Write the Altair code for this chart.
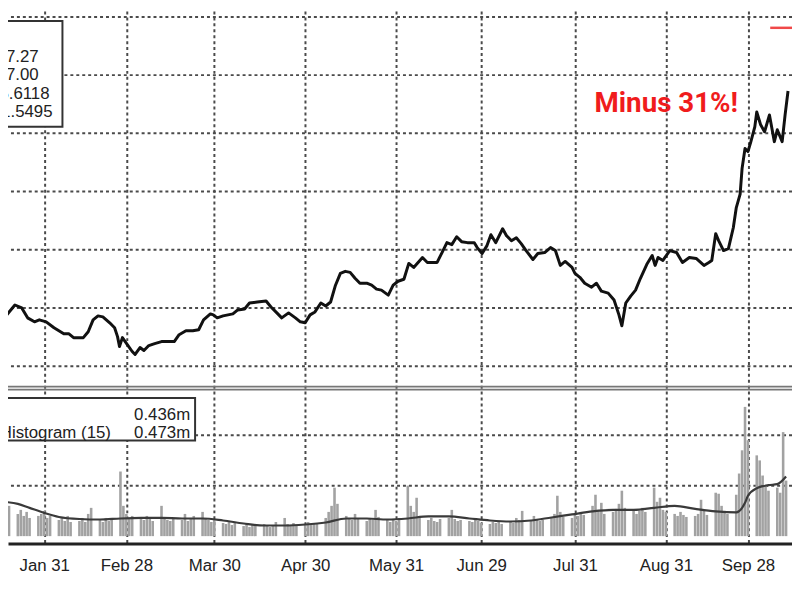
import altair as alt
import pandas as pd

# ---------------- data ----------------
price_dates = [
    "2001-01-17T16:00", "2001-01-21T00:00", "2001-01-23T08:00", "2001-01-25T08:00", "2001-01-27T16:00",
    "2001-01-29T08:00", "2001-01-31T16:00",
    "2001-02-03T08:00", "2001-02-06T16:00", "2001-02-08T08:00", "2001-02-10T00:00", "2001-02-13T08:00",
    "2001-02-15T00:00", "2001-02-16T16:00", "2001-02-18T08:00", "2001-02-20T00:00", "2001-02-22T08:00",
    "2001-02-24T00:00", "2001-02-25T00:00", "2001-02-25T16:00", "2001-02-26T16:00", "2001-02-28T08:00",
    "2001-03-02T00:00", "2001-03-03T00:00", "2001-03-04T16:00", "2001-03-06T00:00", "2001-03-07T16:00",
    "2001-03-09T16:00", "2001-03-12T00:00", "2001-03-14T08:00", "2001-03-16T08:00", "2001-03-18T00:00",
    "2001-03-20T08:00", "2001-03-22T16:00", "2001-03-24T16:00", "2001-03-26T08:00", "2001-03-28T16:00",
    "2001-03-29T16:00", "2001-03-31T00:00",
    "2001-04-02T00:00", "2001-04-05T08:00", "2001-04-07T00:00", "2001-04-09T08:00", "2001-04-11T00:00",
    "2001-04-13T16:00", "2001-04-16T16:00", "2001-04-18T08:00", "2001-04-20T08:00", "2001-04-22T00:00",
    "2001-04-24T08:00", "2001-04-26T16:00", "2001-04-28T08:00", "2001-04-30T00:00",
    "2001-05-01T16:00", "2001-05-03T08:00", "2001-05-05T08:00", "2001-05-07T00:00", "2001-05-08T16:00",
    "2001-05-10T08:00", "2001-05-12T00:00", "2001-05-13T16:00", "2001-05-15T08:00", "2001-05-17T00:00",
    "2001-05-18T16:00", "2001-05-21T00:00", "2001-05-22T16:00", "2001-05-24T08:00", "2001-05-26T00:00",
    "2001-05-28T08:00", "2001-05-30T00:00", "2001-05-31T16:00",
    "2001-06-02T16:00", "2001-06-04T08:00", "2001-06-06T00:00", "2001-06-09T00:00", "2001-06-10T16:00",
    "2001-06-14T00:00", "2001-06-15T16:00", "2001-06-17T08:00", "2001-06-19T00:00", "2001-06-20T16:00",
    "2001-06-22T08:00", "2001-06-24T08:00", "2001-06-26T16:00", "2001-06-27T16:00", "2001-06-29T08:00",
    "2001-07-01T00:00", "2001-07-02T08:00", "2001-07-04T00:00", "2001-07-06T08:00", "2001-07-07T16:00",
    "2001-07-09T08:00", "2001-07-11T00:00", "2001-07-12T16:00", "2001-07-14T08:00", "2001-07-16T16:00",
    "2001-07-18T08:00", "2001-07-20T16:00", "2001-07-22T16:00", "2001-07-24T08:00", "2001-07-26T00:00",
    "2001-07-27T16:00", "2001-07-30T00:00", "2001-07-31T00:00",
    "2001-08-01T16:00", "2001-08-03T08:00", "2001-08-05T16:00", "2001-08-07T08:00", "2001-08-09T00:00",
    "2001-08-11T08:00", "2001-08-13T08:00", "2001-08-15T00:00", "2001-08-16T00:00", "2001-08-17T08:00",
    "2001-08-19T00:00", "2001-08-20T16:00", "2001-08-22T08:00", "2001-08-24T16:00", "2001-08-26T08:00",
    "2001-08-27T08:00", "2001-08-28T08:00", "2001-08-30T00:00",
    "2001-09-01T08:00", "2001-09-03T16:00", "2001-09-05T16:00", "2001-09-08T00:00", "2001-09-10T08:00",
    "2001-09-13T00:00", "2001-09-14T16:00", "2001-09-15T16:00", "2001-09-17T00:00", "2001-09-18T00:00",
    "2001-09-19T16:00", "2001-09-21T08:00", "2001-09-23T00:00", "2001-09-24T00:00", "2001-09-25T08:00",
    "2001-09-26T00:00", "2001-09-27T00:00", "2001-09-28T00:00", "2001-09-29T00:00", "2001-09-30T08:00",
    "2001-10-01T00:00", "2001-10-02T08:00", "2001-10-03T16:00", "2001-10-05T08:00", "2001-10-07T00:00",
    "2001-10-08T00:00", "2001-10-09T16:00", "2001-10-10T16:00", "2001-10-11T16:00",
]
price_values = [
    28.47, 30.51, 30.00, 28.30, 27.62, 27.96, 27.62,
    26.60, 25.58, 25.58, 24.90, 24.90, 25.92, 27.96, 28.64, 28.47, 27.45, 26.60, 25.07, 23.37, 24.90, 23.71,
    22.52, 22.01, 23.20, 22.69, 23.54, 23.88, 24.22, 24.22, 24.22, 25.41, 26.09, 26.09, 26.26, 27.96, 28.98,
    28.81, 28.30,
    28.64, 28.98, 29.66, 29.83, 30.85, 31.02, 31.19, 30.17, 29.15, 28.30, 29.15, 28.30, 27.62, 27.45,
    28.81, 29.32, 30.85, 30.34, 31.02, 33.91, 35.95, 36.29, 36.12, 35.10, 34.25, 34.25, 33.91, 33.23, 33.06,
    32.21, 33.91, 34.59,
    34.93, 37.65, 36.97, 38.67, 37.82, 37.82, 39.52, 41.22, 40.88, 42.24, 41.39, 41.22, 41.22, 40.37, 39.35,
    40.71, 42.59, 41.22, 43.61, 42.41, 41.56, 42.07, 41.05, 39.86, 38.33, 39.35, 39.52, 40.37, 39.86, 37.31,
    37.99, 36.97, 35.95,
    35.27, 34.25, 33.57, 34.25, 32.89, 32.55, 31.36, 28.81, 26.94, 30.85, 32.04, 33.06, 35.10, 37.65, 39.01,
    37.31, 38.67, 38.16,
    39.86, 39.52, 37.82, 38.67, 38.50, 37.31, 37.82, 38.16, 42.76, 41.56, 39.86, 40.20, 43.78, 47.18, 49.56,
    53.98, 57.38, 56.87, 58.57, 61.12,
    63.67, 61.46, 60.27, 63.16, 58.57, 60.61, 58.57, 63.16, 67.27,
]

# daily volume (millions), one per trading day from Jan 17 to Oct 11
volume_start, volume_end = "2001-01-17", "2001-10-11"
volume_values = [
    0.28, 0.24, 0.30,
    0.22, 0.26, 0.20, 0.24, 0.18,
    0.20, 0.22, 0.25, 0.18, 0.20,
    0.16, 0.18, 0.15, 0.20, 0.14,
    0.15, 0.18, 0.14, 0.22, 0.28,
    0.16, 0.14, 0.18, 0.15, 0.17,
    0.64, 0.30, 0.22, 0.18, 0.20,
    0.18, 0.16, 0.20, 0.17, 0.15,
    0.30, 0.18, 0.16, 0.15, 0.17,
    0.16, 0.22, 0.15, 0.18, 0.20,
    0.24, 0.18, 0.16, 0.14, 0.17,
    0.13, 0.12, 0.14, 0.11, 0.13,
    0.10, 0.12, 0.09, 0.11, 0.10,
    0.12, 0.10, 0.09, 0.11, 0.14,
    0.18, 0.12, 0.10, 0.13, 0.11,
    0.12, 0.14, 0.11, 0.13, 0.12,
    0.18, 0.24, 0.30, 0.48, 0.32,
    0.20, 0.18, 0.16, 0.22, 0.17,
    0.15, 0.18, 0.16, 0.26, 0.19,
    0.16, 0.14, 0.17, 0.15, 0.18,
    0.50, 0.30, 0.24, 0.38, 0.20,
    0.16, 0.18, 0.15, 0.14, 0.17,
    0.18, 0.26, 0.17, 0.15, 0.16,
    0.15, 0.14, 0.16, 0.15, 0.13,
    0.12, 0.14, 0.13, 0.15, 0.12,
    0.14, 0.13, 0.18, 0.16, 0.25,
    0.15, 0.20, 0.17, 0.15, 0.16,
    0.18, 0.22, 0.40, 0.24, 0.19,
    0.18, 0.22, 0.20, 0.24, 0.21,
    0.30, 0.41, 0.26, 0.33, 0.22,
    0.24, 0.27, 0.32, 0.45, 0.28,
    0.26, 0.22, 0.25, 0.28, 0.24,
    0.48, 0.34, 0.38, 0.26, 0.24,
    0.22, 0.20, 0.24, 0.21, 0.19,
    0.20, 0.22, 0.36, 0.25, 0.21,
    0.43, 0.42, 0.30, 0.25, 0.22,
    0.41, 0.62, 0.85, 1.28, 0.95,
    0.80, 0.75, 0.60, 0.50, 0.45,
    0.48, 0.43, 1.03, 0.55,
]

# 15-day moving average of volume
ma_dates = [
    "2001-01-17", "2001-01-22", "2001-01-26", "2001-01-31", "2001-02-05", "2001-02-12", "2001-02-19",
    "2001-02-26", "2001-03-05", "2001-03-12", "2001-03-19", "2001-03-26", "2001-04-02", "2001-04-09",
    "2001-04-16", "2001-04-23", "2001-04-30", "2001-05-07", "2001-05-14", "2001-05-21", "2001-05-28",
    "2001-06-04", "2001-06-11", "2001-06-18", "2001-06-25", "2001-07-02", "2001-07-09", "2001-07-16",
    "2001-07-23", "2001-07-30", "2001-08-06", "2001-08-13", "2001-08-20", "2001-08-27", "2001-09-03",
    "2001-09-10", "2001-09-17", "2001-09-24", "2001-09-27", "2001-09-28", "2001-10-01", "2001-10-05",
    "2001-10-08", "2001-10-11",
]
ma_values = [
    0.34, 0.32, 0.28, 0.23, 0.19, 0.17, 0.165, 0.175, 0.18, 0.18, 0.175, 0.175, 0.155, 0.125,
    0.105, 0.105, 0.115, 0.135, 0.175, 0.175, 0.165, 0.175, 0.195, 0.195, 0.175, 0.155, 0.145, 0.155,
    0.185, 0.215, 0.245, 0.26, 0.26, 0.28, 0.30, 0.27, 0.245, 0.235, 0.33, 0.40, 0.475, 0.505,
    0.515, 0.59,
]

tick_dates = ["2001-01-31", "2001-02-28", "2001-03-30", "2001-04-30", "2001-05-31",
              "2001-06-29", "2001-07-31", "2001-08-31", "2001-09-28"]
price_grid = [20, 30, 40, 50, 60, 70, 80]
volume_grid = [0.5, 1.0]

top_legend_labels = ["67.27", "97.00", "55.6118", "41.5495"]
vol_legend_labels = ["0.436m", "Histogram (15)", "0.473m"]
annotation_text = "Minus 31%!"

# ---------------- chart ----------------
W, H = 792, 538
FONT = "Liberation Sans"
GRID = "#4a4a4a"


def dt(s, hours=0):
    y, m, d = (int(v) for v in s.split("-"))
    return alt.DateTime(year=y, month=m, date=d, hours=hours)


x_scale = alt.Scale(domain=[dt("2001-01-20", 8), dt("2001-10-11", 8)])
x_axis = alt.Axis(
    values=[dt(s) for s in tick_dates], format="%b %d", title=None,
    grid=True, gridDash=[3, 3], gridColor=GRID, gridWidth=2, gridOpacity=1,
    ticks=False, domain=True, domainColor="#222", domainWidth=3,
    labelFont=FONT, labelFontSize=17, labelColor="#222", labelPadding=14,
    labelFlush=False, labelOverlap=False,
)


def X():
    return alt.X("date:T", scale=x_scale, axis=x_axis)


price_scale = alt.Scale(domain=[-10.476, 81.02], nice=False, zero=False)
vol_scale = alt.Scale(domain=[-0.0735, 5.201], nice=False, zero=False)

price_df = pd.DataFrame({"date": pd.to_datetime(price_dates), "price": price_values})
vol_df = pd.DataFrame({"date": pd.bdate_range(volume_start, volume_end), "vol": volume_values})
ma_df = pd.DataFrame({"date": pd.to_datetime(ma_dates), "ma": ma_values})
pgrid_df = pd.DataFrame({"p": price_grid})
vgrid_df = pd.DataFrame({"v": volume_grid})
one = alt.Data(values=[{"k": 1}])

price_grid_layer = alt.Chart(pgrid_df).mark_rule(
    strokeDash=[3, 3], color=GRID, strokeWidth=2
).encode(y=alt.Y("p:Q", scale=price_scale, axis=None))

vol_grid_layer = alt.Chart(vgrid_df).mark_rule(
    strokeDash=[3, 3], color=GRID, strokeWidth=2
).encode(y=alt.Y("v:Q", scale=vol_scale, axis=None))

bars = alt.Chart(vol_df).mark_bar(width=2.6, color="#a2a2a2").encode(
    x=X(), y=alt.Y("vol:Q", scale=vol_scale, axis=None), y2=alt.value(H - 2)
)

ma_line = alt.Chart(ma_df).mark_line(color="#3a3a3a", strokeWidth=2.2, interpolate="monotone").encode(
    x=X(), y=alt.Y("ma:Q", scale=vol_scale, axis=None)
)

price_line = alt.Chart(price_df).mark_line(
    color="#111", strokeWidth=3, strokeJoin="round", clip=True
).encode(x=X(), y=alt.Y("price:Q", scale=price_scale, axis=None))

sep1 = alt.Chart(one).mark_rule(color="#777", strokeWidth=1.6).encode(
    x=alt.value(0), x2=alt.value(W), y=alt.value(379.5))
sep2 = alt.Chart(one).mark_rule(color="#777", strokeWidth=1.6).encode(
    x=alt.value(0), x2=alt.value(W), y=alt.value(382.5))

box_top = alt.Chart(one).mark_rect(fill="white", stroke="#333", strokeWidth=2).encode(
    x=alt.value(-13), x2=alt.value(55), y=alt.value(10), y2=alt.value(117))
box_vol = alt.Chart(one).mark_rect(fill="white", stroke="#333", strokeWidth=2).encode(
    x=alt.value(-13), x2=alt.value(189), y=alt.value(391), y2=alt.value(434))

text_layers = []
for label, xr, yb in zip(top_legend_labels, [31, 31, 42, 45], [52, 69.5, 88.5, 107]):
    text_layers.append(
        alt.Chart(one).mark_text(text=label, align="right", baseline="alphabetic",
                                 font=FONT, fontSize=17, color="#222")
        .encode(x=alt.value(xr), y=alt.value(yb))
    )
for label, xr, yb in zip(vol_legend_labels, [184, 104, 184], [413, 431, 431]):
    text_layers.append(
        alt.Chart(one).mark_text(text=label, align="right", baseline="alphabetic",
                                 font=FONT, fontSize=17, color="#222")
        .encode(x=alt.value(xr), y=alt.value(yb))
    )

red_text = alt.Chart(one).mark_text(
    text=annotation_text, align="center", baseline="alphabetic",
    font="Roboto", fontSize=28, fontWeight="bold", color="#f01c1c"
).encode(x=alt.value(665), y=alt.value(102))

red_swatch = alt.Chart(one).mark_rule(color="#f04848", strokeWidth=2.5).encode(
    x=alt.value(770), x2=alt.value(W), y=alt.value(17))

chart = alt.layer(
    price_grid_layer, vol_grid_layer, bars, ma_line, price_line, sep1, sep2,
    box_top, box_vol, *text_layers, red_text, red_swatch
).resolve_scale(y="independent").properties(
    width=W, height=H,
    autosize=alt.AutoSizeParams(type="none"),
    padding={"left": 0, "top": 0, "right": 0, "bottom": 54},
).configure_view(stroke=None)

chart.save("out.html", embed_options={"renderer": "svg", "actions": False})
